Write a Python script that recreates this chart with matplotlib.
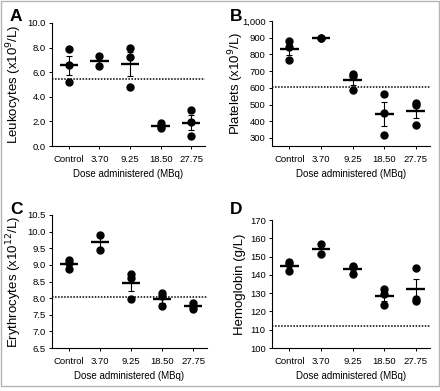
import numpy as np
import matplotlib
matplotlib.use("Agg")
import matplotlib.pyplot as plt
from matplotlib.ticker import FuncFormatter, MultipleLocator

plt.rcParams['font.family'] = ['Liberation Sans', 'DejaVu Sans']

doses = ["Control", "3.70", "9.25", "18.50", "27.75"]

# individual animals per dose group
leukocytes = [[7.9, 6.6, 5.2], [7.35, 6.5], [8.0, 7.25, 4.8], [1.9, 1.6, 1.45], [2.9, 1.95, 0.8]]
platelets = [[878, 847, 767], [897, 896], [680, 668, 590], [565, 450, 318], [510, 500, 380]]
erythrocytes = [[9.15, 9.05, 8.88], [9.9, 9.46], [8.74, 8.62, 7.98], [8.15, 8.05, 7.75], [7.85, 7.75, 7.66]]
hemoglobin = [[147, 146, 142], [157, 151.5], [145, 144.5, 140.5], [132.5, 129.5, 123.5], [143.5, 127, 125.5]]

# reference (dotted) levels
ref_leuko = 5.43
ref_plt = 605
ref_ery = 8.03
ref_hb = 112.3

panels = [
    # letter, data, ref, ylabel, ylim, step, formatter, axes box in px (left, top, right, bottom)
    ("A", leukocytes, ref_leuko, r"Leukocytes (x10$^{9}$/L)", (0, 10), 2,
     FuncFormatter(lambda v, p: f"{v:.1f}"), (52, 23, 205, 146)),
    ("B", platelets, ref_plt, r"Platelets (x10$^{9}$/L)", (252, 1000), 100,
     FuncFormatter(lambda v, p: f"{v:,.0f}" if v >= 300 else ""), (272, 21, 430, 146)),
    ("C", erythrocytes, ref_ery, r"Erythrocytes (x10$^{12}$/L)", (6.5, 10.5), 0.5,
     FuncFormatter(lambda v, p: f"{v:.1f}"), (52, 215, 207, 348)),
    ("D", hemoglobin, ref_hb, "Hemoglobin (g/L)", (100, 170), 10,
     FuncFormatter(lambda v, p: f"{v:.0f}"), (272, 220, 430, 348)),
]

W, H = 440, 391
fig = plt.figure(figsize=(W / 100, H / 100), dpi=100)

# light grey frame round the whole figure
fig.patches.append(plt.Rectangle((1 / W, 1 - 386 / H), 438 / W, 385 / H,
                                 transform=fig.transFigure, fill=False,
                                 edgecolor="#b4b4b4", lw=1.0))

for letter, data, ref, ylabel, ylim, step, fmt, (l, t, r, b) in panels:
    ax = fig.add_axes([l / W, 1 - b / H, (r - l) / W, (b - t) / H])
    x = np.arange(len(doses))
    for i, vals in enumerate(data):
        vals = np.array(vals)
        m = vals.mean()
        sem = vals.std(ddof=1) / np.sqrt(len(vals))
        ax.plot(np.full(len(vals), i), vals, "o", color="black", ms=5, zorder=3)
        ax.errorbar(i, m, yerr=sem, color="black", lw=0.8, capsize=2.2,
                    capthick=0.8, zorder=4)
        ax.hlines(m, i - 0.3, i + 0.3, color="black", lw=1.7, zorder=5)

    ax.axhline(ref, color="black", ls=(0, (1, 1)), lw=1.1, zorder=2)

    ax.set_xlim(-0.55, 4.45)
    ax.set_ylim(*ylim)
    ax.yaxis.set_major_locator(MultipleLocator(step))
    ax.yaxis.set_major_formatter(fmt)
    ax.set_xticks(x)
    ax.set_xticklabels(doses)
    ax.tick_params(labelsize=6.8, length=2.5, width=0.7, pad=2)
    ax.tick_params(axis="x", pad=4)
    for s in ("top", "right"):
        ax.spines[s].set_visible(False)
    for s in ("left", "bottom"):
        ax.spines[s].set_linewidth(0.8)

    # label positions in px, converted to axes fractions
    ylab_right = 24 if l < 200 else 246
    xlab_top = b + 23
    ax.set_ylabel(ylabel, fontsize=9.5)
    ax.yaxis.set_label_coords((ylab_right - l) / (r - l), 0.5)
    ax.set_xlabel("Dose administered (MBq)", fontsize=7)
    ax.xaxis.set_label_coords(0.5, (b - xlab_top) / (b - t))

    lx = 10 if l < 200 else 230
    ly = 9 if t < 100 else 202
    fig.text(lx / W, 1 - ly / H, letter, fontsize=12.5, fontweight="bold",
             ha="left", va="top")

fig.savefig("out.png", dpi=100)
